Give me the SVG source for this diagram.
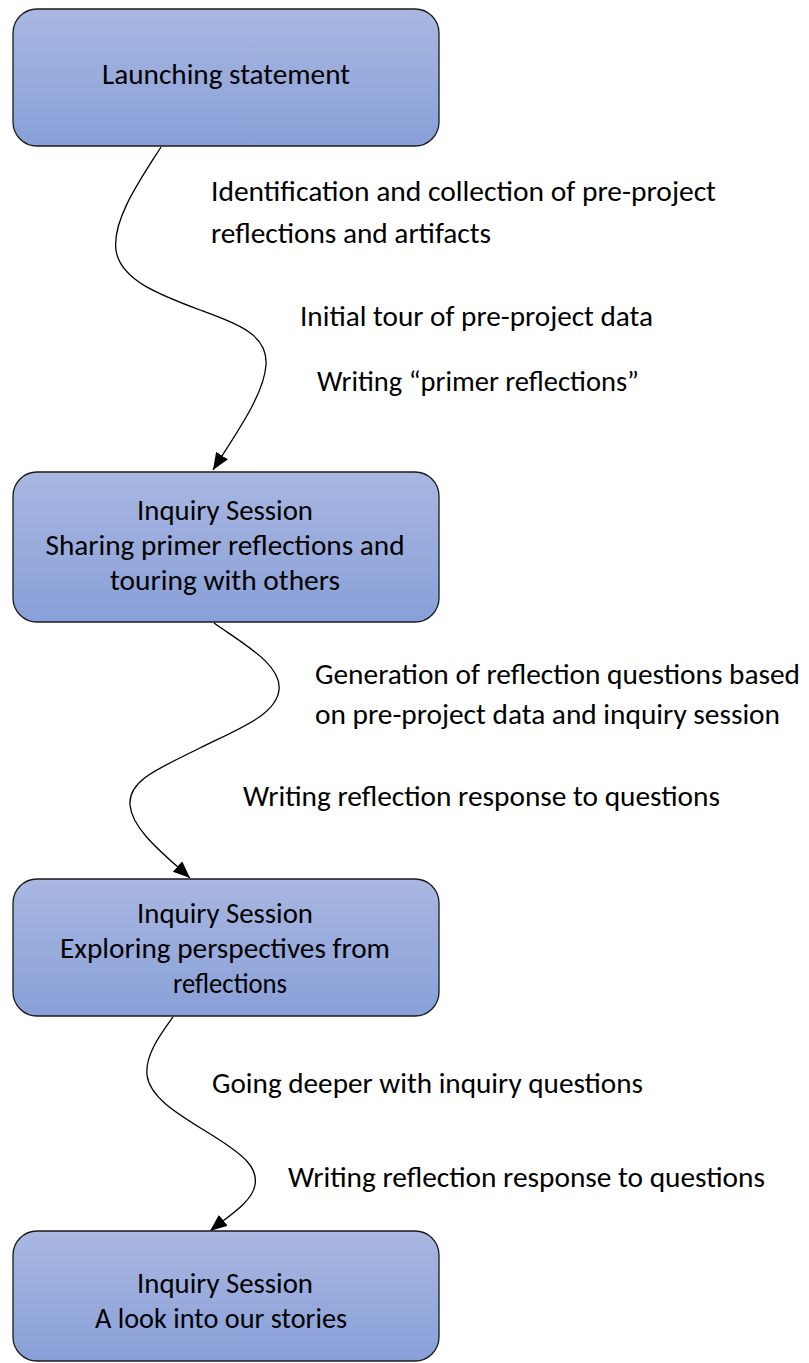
<svg xmlns="http://www.w3.org/2000/svg" width="809" height="1363" viewBox="0 0 809 1363">
<defs>
<linearGradient id="boxfill" x1="0" y1="0" x2="0" y2="1">
<stop offset="0" stop-color="#a9b7e1"/>
<stop offset="1" stop-color="#88a0d8"/>
</linearGradient>
<marker id="arrow" markerUnits="userSpaceOnUse" markerWidth="18" markerHeight="14" refX="17" refY="7" orient="auto">
<path d="M0,0 L17,7 L0,14 z" fill="#000"/>
</marker>
<style>
.box{fill:url(#boxfill);stroke:#1a1a1a;stroke-width:1.3}
.t{font-family:"Carlito","Calibri","Lato",sans-serif;font-size:28px;fill:#000}
.c{text-anchor:middle}
.conn{fill:none;stroke:#000;stroke-width:1.3;marker-end:url(#arrow)}
</style>
</defs>
<rect width="809" height="1363" fill="#fff"/>
<g id="connectors">
<path class="conn" d="M161,147 C140,180 112,220 116,250 C120,280 160,295 200,310 C240,325 268,335 266,365 C264,395 235,435 213,470"/>
<path class="conn" d="M214,623 C245,645 282,665 279,690 C276,715 240,728 200,748 C160,768 128,780 130,805 C132,830 165,855 190,878"/>
<path class="conn" d="M173,1017 C160,1035 145,1055 147,1075 C150,1100 185,1118 215,1137 C245,1156 258,1168 255,1185 C252,1202 230,1215 210,1231"/>
</g>
<g id="labels">
<text class="t" x="211" y="201" textLength="505" lengthAdjust="spacingAndGlyphs">Identification and collection of pre-project</text>
<text class="t" x="211" y="243" textLength="280" lengthAdjust="spacingAndGlyphs">reflections and artifacts</text>
<text class="t" x="300" y="326" textLength="353" lengthAdjust="spacingAndGlyphs">Initial tour of pre-project data</text>
<text class="t" x="317" y="391" textLength="322" lengthAdjust="spacingAndGlyphs">Writing “primer reflections”</text>
<text class="t" x="315" y="684" textLength="485" lengthAdjust="spacingAndGlyphs">Generation of reflection questions based</text>
<text class="t" x="315" y="724" textLength="465" lengthAdjust="spacingAndGlyphs">on pre-project data and inquiry session</text>
<text class="t" x="243" y="806" textLength="477" lengthAdjust="spacingAndGlyphs">Writing reflection response to questions</text>
<text class="t" x="212" y="1093" textLength="431" lengthAdjust="spacingAndGlyphs">Going deeper with inquiry questions</text>
<text class="t" x="288" y="1187" textLength="477" lengthAdjust="spacingAndGlyphs">Writing reflection response to questions</text>
</g>
<g id="node1">
<rect class="box" x="13" y="9" width="426" height="137" rx="24"/>
<text class="t c" x="226" y="84" textLength="248" lengthAdjust="spacingAndGlyphs">Launching statement</text>
</g>
<g id="node2">
<rect class="box" x="13" y="472" width="426" height="150" rx="24"/>
<text class="t c" x="225" y="520" textLength="176" lengthAdjust="spacingAndGlyphs">Inquiry Session</text>
<text class="t c" x="225" y="555" textLength="359" lengthAdjust="spacingAndGlyphs">Sharing primer reflections and</text>
<text class="t c" x="225" y="590" textLength="230" lengthAdjust="spacingAndGlyphs">touring with others</text>
</g>
<g id="node3">
<rect class="box" x="13" y="879" width="426" height="137" rx="24"/>
<text class="t c" x="225" y="923" textLength="176" lengthAdjust="spacingAndGlyphs">Inquiry Session</text>
<text class="t c" x="225" y="958" textLength="330" lengthAdjust="spacingAndGlyphs">Exploring perspectives from</text>
<text class="t c" x="230" y="993" textLength="114" lengthAdjust="spacingAndGlyphs">reflections</text>
</g>
<g id="node4">
<rect class="box" x="13" y="1231" width="426" height="130" rx="24"/>
<text class="t c" x="225" y="1293" textLength="176" lengthAdjust="spacingAndGlyphs">Inquiry Session</text>
<text class="t c" x="221" y="1328" textLength="252" lengthAdjust="spacingAndGlyphs">A look into our stories</text>
</g>
</svg>
